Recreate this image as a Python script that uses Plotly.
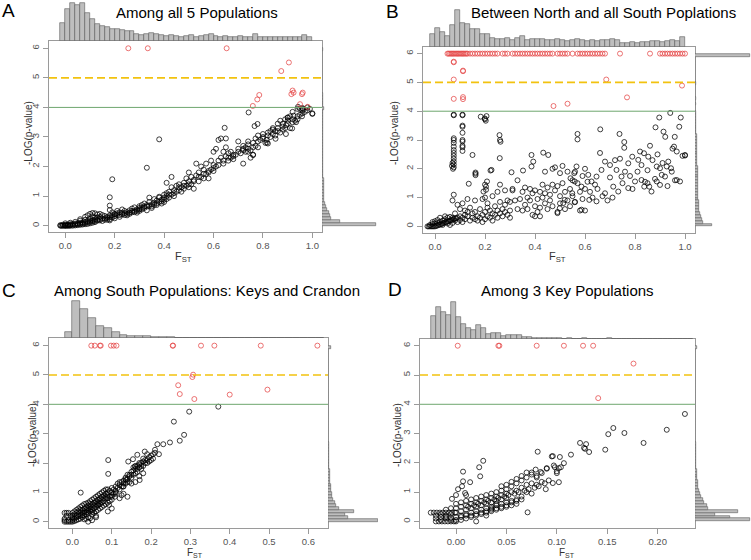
import plotly.graph_objects as go

# ---------------- DATA ----------------
A_TITLE = "Among all 5 Populations"
B_TITLE = "Between North and all South Poplations"
C_TITLE = "Among South Populations: Keys and Crandon"
D_TITLE = "Among 3 Key Populations"

A_BLACK = [(-0.02,0.0),(-0.015,0.0),(-0.01,0.0),(-0.005,0.0),(0.0,0.0),(0.005,0.0),(0.01,0.0),(0.015,0.0),(0.02,0.0),(0.03,0.0),(0.04,0.01),(0.05,0.02),(0.06,0.03),(0.07,0.04),(0.08,0.05),(0.09,0.06),(0.1,0.08),(0.11,0.1),(0.12,0.12),
 (-0.02,0.02),(-0.01,0.03),(0.0,0.03),(0.01,0.04),(0.02,0.05),(0.03,0.06),(0.04,0.07),(0.05,0.08),(0.06,0.1),(0.07,0.11),(0.08,0.13),(0.09,0.15),(0.1,0.17),(0.11,0.19),(0.12,0.21),(0.13,0.2),(0.14,0.18),(0.15,0.16),
 (0.0,0.08),(0.02,0.1),(0.04,0.13),(0.06,0.17),(0.08,0.2),(0.1,0.24),(0.12,0.28),(0.14,0.3),(0.16,0.25),(0.17,0.2),(0.18,0.22),
 (0.06,0.22),(0.08,0.3),(0.09,0.35),(0.1,0.4),(0.11,0.43),(0.12,0.42),(0.13,0.38),(0.14,0.4),(0.15,0.36),(0.16,0.33),(0.11,0.32),(0.13,0.27),
 (0.17,0.3),(0.18,0.35),(0.19,0.28),(0.2,0.32),(0.2,0.4),(0.21,0.36),(0.22,0.3),(0.22,0.45),(0.23,0.38),(0.24,0.42),(0.24,0.5),(0.25,0.35),(0.25,0.46),(0.26,0.4),(0.26,0.52),(0.27,0.45),(0.27,0.58),(0.28,0.5),(0.28,0.62),(0.29,0.44),(0.29,0.55),(0.3,0.5),(0.3,0.6),(0.3,0.66),(0.19,0.45),(0.21,0.5),(0.23,0.55),(0.2,0.25),(0.18,0.18),
 (0.31,0.55),(0.31,0.7),(0.32,0.6),(0.32,0.75),(0.33,0.52),(0.33,0.65),(0.34,0.68),(0.34,0.8),(0.35,0.6),(0.35,0.72),(0.36,0.78),(0.36,0.9),(0.37,0.7),(0.37,0.85),(0.38,0.8),(0.38,0.95),(0.39,0.75),(0.39,0.88),(0.4,0.8),(0.4,0.95),(0.4,1.05),(0.41,0.9),(0.41,1.1),(0.42,0.95),(0.42,1.15),(0.43,1.05),(0.43,1.3),(0.44,1.0),(0.44,1.2),(0.45,1.15),(0.45,1.35),
 (0.34,0.95),(0.38,0.98),(0.43,1.65),(0.41,1.45),
 (0.46,1.2),(0.46,1.4),(0.47,1.3),(0.47,1.15),(0.48,1.25),(0.48,1.45),(0.49,1.35),(0.49,1.6),(0.5,1.3),(0.5,1.5),(0.5,1.8),(0.51,1.4),(0.51,1.65),(0.52,1.25),(0.52,1.55),(0.53,1.7),(0.53,2.1),(0.54,1.5),(0.54,1.8),(0.55,1.65),(0.55,2.0),(0.56,1.6),(0.56,1.9),(0.57,1.75),(0.57,2.1),(0.58,1.8),(0.58,1.6),(0.59,1.9),(0.59,2.2),(0.6,1.85),(0.6,2.05),(0.6,2.5),
 (0.61,2.0),(0.61,2.6),(0.62,2.2),(0.62,2.9),(0.63,2.3),(0.63,2.95),(0.64,2.1),(0.64,2.5),(0.65,2.35),(0.65,2.65),(0.65,2.95),(0.66,2.2),(0.66,2.45),(0.67,2.3),(0.67,2.5),(0.68,2.35),(0.68,2.25),(0.69,2.4),(0.7,2.5),(0.7,2.85),(0.71,2.45),(0.72,2.6),(0.72,2.55),(0.73,2.65),(0.73,2.5),(0.74,2.6),(0.74,2.85),(0.75,2.3),(0.75,2.55),(0.76,2.4),(0.76,2.65),
 (0.77,2.7),(0.77,2.95),(0.78,2.65),(0.78,3.05),(0.79,2.9),(0.8,2.95),(0.8,3.1),(0.81,2.8),(0.82,2.78),(0.82,3.05),(0.83,3.0),(0.83,3.2),(0.84,3.1),(0.84,3.25),(0.85,3.2),(0.85,3.05),(0.86,3.3),(0.86,3.45),(0.87,3.15),(0.87,3.55),(0.88,3.25),(0.88,3.35),(0.89,3.3),(0.89,3.6),(0.9,3.45),(0.9,3.65),
 (0.91,3.3),(0.91,3.7),(0.92,3.5),(0.92,3.85),(0.93,3.55),(0.94,3.6),(0.94,3.95),(0.95,3.75),(0.95,3.95),(0.96,3.8),(0.96,3.98),(0.97,3.85),(0.98,4.0),(0.99,3.95),(1.0,3.78),(1.0,3.8),
 (0.19,1.57),(0.18,0.96),(0.18,0.68),(0.18,0.53),(0.33,1.96),(0.38,2.92),(0.645,3.31),(0.742,3.83),(0.766,3.37),(0.778,3.44),(0.816,2.81),(0.815,2.9),(0.851,2.94),(0.924,3.72),(0.958,3.7),(0.962,3.95),(0.942,4.02),(0.9,3.66),(0.893,3.1),(0.918,3.29),(0.934,3.5),(0.894,3.4),(0.74,2.5),(0.76,2.39),(0.72,2.1),
 (0.0,0.01),(0.01,0.02),(0.02,0.02),(0.03,0.03),(0.04,0.04),(0.05,0.05),(0.06,0.06),(0.07,0.07),(0.08,0.09),(0.09,0.11),(0.1,0.13),(0.11,0.15),(0.12,0.16),(0.13,0.17),(0.14,0.22),(0.15,0.24),(0.16,0.2),(0.17,0.26),(0.18,0.28),(0.19,0.35),(0.2,0.38),(0.21,0.42),(0.22,0.36),(0.23,0.44),(0.24,0.36),(0.25,0.4),(0.26,0.44),(0.27,0.5),(0.28,0.46),(0.29,0.5),(0.3,0.55),(0.31,0.6),(0.32,0.65),(0.33,0.7),(0.35,0.65),(0.36,0.7),(0.37,0.75),(0.39,0.82),(0.4,0.88),(0.41,1.0),(0.42,1.05),(0.44,1.1),(0.46,1.3),(0.48,1.35),(0.5,1.4),(0.52,1.5),(0.54,1.65),(0.56,1.75),(0.58,1.85),(0.6,1.95),(0.62,2.05),(0.64,2.2),(0.66,2.3),(0.68,2.4),(0.7,2.6),(0.72,2.7),(0.74,2.75),(0.76,2.8),(0.78,2.85),(0.8,3.0),(0.82,3.15),(0.84,3.3),(0.86,3.2),(0.88,3.45),(0.9,3.55),(0.92,3.6),(0.94,3.7),(0.96,3.9),(0.98,3.9)]
A_RED = [(0.255,6.0),(0.334,6.0),(0.653,6.0),(0.905,5.52),(0.874,5.23),(0.759,4.05),(0.777,4.27),(0.785,4.42),(0.92,4.57),(0.924,4.5),(0.915,4.45),(0.961,4.5),(0.958,4.45),(0.95,4.11),(0.981,4.02)]

B_BLACK = [(-0.03,0.0),(-0.025,0.0),(-0.02,0.0),(-0.015,0.0),(-0.01,0.0),(-0.005,0.0),(0.0,0.0),(0.005,0.02),(0.01,0.03),(0.015,0.05),(0.02,0.06),(0.025,0.08),(0.03,0.1),(0.035,0.12),(0.04,0.14),(0.045,0.15),(0.05,0.17),(0.055,0.18),(0.06,0.2),(0.065,0.22),(0.07,0.24),(0.075,0.25),(0.08,0.27),(0.085,0.28),(0.09,0.3),
 (-0.02,0.05),(-0.01,0.08),(0.0,0.1),(0.01,0.12),(0.02,0.15),(0.03,0.2),(0.04,0.25),(0.05,0.3),(0.06,0.33),(0.07,0.3),(0.08,0.2),(0.09,0.15),(0.1,0.22),(0.02,0.3),(0.04,0.35),(0.01,0.22),(0.0,0.18),(-0.01,0.15),(0.03,0.05),(0.05,0.1),(0.07,0.12),(0.06,0.05),(0.1,0.35),(0.11,0.3),(0.12,0.25),(0.12,0.4),(0.13,0.35),(0.11,0.15),
 (0.14,0.2),(0.15,0.3),(0.15,0.45),(0.16,0.25),(0.16,0.5),(0.17,0.35),(0.17,0.2),(0.18,0.3),(0.18,0.6),(0.19,0.4),(0.19,0.15),(0.2,0.25),(0.2,0.5),(0.21,0.35),(0.21,0.65),(0.22,0.3),(0.22,0.55),(0.23,0.45),(0.23,0.2),(0.24,0.4),(0.24,0.7),(0.25,0.55),(0.25,0.3),(0.26,0.45),(0.26,0.85),(0.27,0.6),(0.27,0.35),(0.28,0.5),(0.28,0.75),(0.29,0.4),(0.29,0.9),(0.3,0.55),(0.3,0.3),(0.13,0.5),(0.14,0.65),(0.12,0.55),(0.1,0.6),(0.09,0.75),(0.08,0.45),(0.07,0.9),(0.075,1.1),(0.11,0.8),(0.13,0.95),(0.16,0.9),(0.2,1.0),(0.23,1.05),(0.26,1.45),(0.25,1.2),(0.28,1.25),
 (0.075,3.86),(0.075,3.88),(0.075,3.06),(0.075,3.0),(0.075,2.9),(0.075,2.77),(0.075,2.65),(0.075,2.55),(0.075,2.45),(0.075,2.35),(0.075,2.25),(0.075,2.15),(0.075,2.05),(0.072,2.0),(0.07,2.2),(0.068,2.1),
 (0.11,3.86),(0.11,3.88),(0.11,3.5),(0.11,3.46),(0.11,3.25),(0.11,3.0),(0.11,2.95),(0.11,2.8),(0.11,2.75),(0.11,2.62),
 (0.183,3.81),(0.199,3.75),(0.203,3.67),(0.206,3.83),(0.2,3.72),(0.258,3.17),(0.26,3.0),(0.262,2.94),(0.15,2.48),(0.259,2.37),(0.162,1.87),(0.162,1.83),(0.162,1.78),(0.204,1.38),(0.204,1.27),(0.208,1.56),(0.226,1.96),(0.222,1.94),(0.194,1.21),(0.2,1.45),(0.135,1.48),(0.19,0.95),(0.21,0.8),
 (0.386,2.48),(0.393,2.25),(0.433,2.56),(0.453,2.48),(0.306,1.88),(0.352,1.94),(0.386,2.08),(0.31,1.3),(0.31,1.25),(0.32,0.9),(0.33,0.6),(0.34,0.95),(0.35,0.55),(0.35,1.2),(0.36,0.75),(0.37,1.0),(0.37,0.6),(0.38,0.9),(0.38,1.3),(0.39,1.15),(0.39,0.4),(0.4,0.7),(0.4,1.25),(0.41,0.5),(0.41,0.95),(0.42,1.2),(0.42,0.65),(0.43,1.0),(0.43,1.45),(0.44,0.8),(0.44,1.15),(0.45,0.6),(0.45,1.35),(0.46,1.1),(0.46,0.9),(0.47,1.45),(0.47,0.7),(0.48,1.25),(0.48,2.05),(0.49,0.5),(0.49,1.4),(0.5,1.05),(0.5,0.8),(0.51,1.5),(0.51,2.1),(0.52,0.6),(0.52,1.2),(0.53,1.9),(0.53,0.9),(0.54,1.3),(0.54,0.7),(0.55,1.6),(0.55,1.05),(0.56,0.85),(0.56,1.9),(0.57,1.5),(0.57,3.21),(0.57,3.02),(0.58,0.55),(0.58,1.2),(0.59,1.75),(0.59,0.95),(0.6,1.3),(0.6,2.0),
 (0.33,1.6),(0.36,1.35),(0.44,1.9),(0.47,2.0),(0.5,1.85),(0.4,0.35),(0.42,0.35),(0.3,0.85),
 (0.661,3.37),(0.738,3.21),(0.757,2.93),(0.757,2.73),(0.897,3.78),(0.941,3.94),(0.983,3.78),(0.977,3.46),(0.959,3.11),(0.882,3.44),(0.914,3.29),(0.921,3.11),(0.956,2.77),(0.967,2.6),(1.0,2.48),(1.0,2.46),(0.933,2.25),(0.9,2.02),(0.853,2.42),(0.836,2.54),(0.813,2.31),(0.826,2.13),(0.789,2.42),(0.773,2.19),(0.746,1.73),(0.726,1.96),(0.7,2.13),(0.68,2.25),(0.666,1.96),(0.646,1.73),(0.626,1.56),(0.613,1.79),(0.586,1.38),(0.559,1.56),(0.566,2.08),(0.557,1.85),(0.542,1.67),(0.549,1.15),(0.519,0.92),(0.499,0.63),(0.49,0.46),(0.513,0.81),(0.559,0.84),(0.586,0.58),(0.617,0.92),(0.646,0.87),(0.68,1.15),(0.713,1.38),(0.733,1.21),(0.773,1.33),(0.8,1.56),(0.826,1.61),(0.857,1.38),(0.887,1.56),(0.9,1.44),(0.92,1.73),(0.947,1.9),(0.967,1.61),(0.98,1.56),(0.907,1.79),(0.866,1.21),(0.837,1.38),(0.887,2.08),(0.927,2.08),(0.944,2.02),
 (0.62,1.2),(0.64,1.45),(0.66,2.55),(0.67,1.05),(0.69,0.9),(0.7,1.7),(0.71,1.0),(0.72,2.3),(0.74,2.35),(0.75,1.5),(0.76,1.9),(0.78,1.75),(0.79,1.3),(0.81,1.9),(0.82,2.6),(0.84,1.55),(0.85,1.95),(0.86,2.8),(0.87,2.3),(0.88,1.65),(0.89,2.5),(0.91,2.2),(0.93,1.4),(0.95,2.7),(0.96,1.6),(0.99,2.45),(0.6,0.55),(0.63,1.0),(0.65,1.3),(0.61,1.55),(0.85,1.5)]
B_RED = [(0.05,6),(0.055,6),(0.06,6),(0.065,6),(0.07,6),(0.075,6),(0.08,6),(0.085,6),(0.09,6),(0.095,6),(0.1,6),(0.105,6),(0.11,6),(0.115,6),(0.12,6),(0.125,6),(0.13,6),(0.14,6),(0.15,6),(0.16,6),(0.17,6),(0.18,6),(0.19,6),(0.2,6),(0.21,6),(0.22,6),(0.23,6),(0.24,6),(0.25,6),(0.27,6),(0.28,6),(0.29,6),(0.31,6),(0.32,6),(0.33,6),(0.34,6),(0.35,6),(0.36,6),(0.37,6),(0.38,6),(0.39,6),(0.4,6),(0.41,6),(0.42,6),(0.43,6),(0.44,6),(0.45,6),(0.46,6),(0.47,6),(0.49,6),(0.5,6),(0.51,6),(0.52,6),(0.53,6),(0.55,6),(0.57,6),(0.58,6),(0.59,6),(0.6,6),(0.61,6),(0.62,6),(0.63,6),(0.64,6),(0.65,6),(0.66,6),(0.67,6),(0.68,6),(0.74,6),(0.86,6),(0.9,6),(0.91,6),(0.92,6),(0.93,6),(0.94,6),(0.95,6),(0.96,6),(0.97,6),(0.98,6),(0.99,6),(1.0,6),
 (0.075,5.7),(0.075,5.72),(0.075,5.1),(0.075,4.43),(0.112,5.41),(0.112,5.39),(0.112,4.49),(0.112,4.42),(0.474,4.18),(0.53,4.26),(0.685,5.1),(0.768,4.48),(0.988,4.89)]

C_BLACK = [(-0.02,0.0),(-0.015,0.0),(-0.01,0.0),(-0.005,0.0),(0.0,0.0),(0.005,0.02),(0.01,0.05),(0.015,0.08),(0.02,0.1),(0.025,0.15),(0.03,0.2),(0.035,0.25),(0.04,0.3),(0.045,0.35),(0.05,0.4),(0.055,0.45),(0.06,0.5),(0.065,0.55),(0.07,0.6),(0.075,0.65),(0.08,0.7),
 (-0.02,0.1),(-0.015,0.2),(-0.02,0.3),(-0.015,0.3),(-0.01,0.3),(-0.005,0.2),(0.0,0.15),(0.005,0.25),(0.01,0.3),(0.015,0.35),(0.02,0.3),(0.025,0.4),(0.03,0.45),(0.035,0.5),(0.04,0.55),(0.045,0.5),(0.05,0.6),(0.055,0.65),(0.06,0.7),(0.065,0.75),(0.07,0.8),(0.075,0.85),(0.08,0.9),
 (0.0,0.05),(0.005,0.1),(0.01,0.15),(0.015,0.18),(0.02,0.2),(0.025,0.22),(0.03,0.3),(0.035,0.32),(0.04,0.38),(0.045,0.42),(0.05,0.25),(0.055,0.3),(0.06,0.35),(0.065,0.4),(0.07,0.45),(0.075,0.5),(0.08,0.55),(0.085,0.6),(0.09,0.65),(0.095,0.7),(0.1,0.75),
 (0.0,0.3),(0.005,0.35),(0.01,0.4),(0.015,0.45),(0.02,0.5),(0.025,0.55),(0.03,0.6),(0.035,0.62),(0.04,0.65),(0.045,0.7),(0.05,0.75),(0.055,0.8),(0.06,0.85),(0.065,0.9),(0.07,0.95),(0.075,1.0),(0.08,1.05),(0.085,1.1),(0.09,1.0),(0.095,1.05),
 (0.021,0.99),(0.04,0.15),(0.045,0.12),(0.03,0.08),(0.035,0.1),(0.05,0.33),(0.06,0.2),(0.065,0.6),
 (0.085,0.8),(0.09,0.9),(0.095,0.85),(0.1,1.0),(0.1,0.9),(0.105,1.1),(0.11,1.2),(0.11,0.95),(0.115,1.15),(0.115,1.3),(0.12,1.25),(0.12,1.1),(0.125,1.35),(0.125,0.9),(0.13,1.4),(0.13,1.2),(0.135,1.5),(0.135,1.3),(0.14,1.45),(0.14,1.6),(0.145,1.55),(0.145,1.35),(0.15,1.7),(0.15,1.5),(0.155,1.75),(0.155,1.6),(0.16,1.8),(0.16,1.65),(0.165,1.9),(0.165,1.7),(0.17,1.95),(0.17,1.85),(0.175,2.0),(0.175,1.8),(0.18,2.05),(0.18,1.9),(0.185,2.0),(0.19,2.1),(0.19,2.3),(0.195,2.2),(0.2,2.25),(0.2,2.1),(0.205,2.3),
 (0.091,2.1),(0.091,1.63),(0.184,2.39),(0.165,2.28),(0.154,2.13),(0.142,2.05),(0.159,1.88),(0.18,1.65),(0.171,1.42),(0.137,1.42),(0.129,1.2),(0.108,0.85),(0.093,0.57),(0.12,0.8),(0.13,0.95),(0.14,0.85),(0.15,1.3),(0.16,1.35),(0.17,1.55),(0.06,0.15),(0.05,0.05),(0.04,0.0),(0.1,0.45),(0.09,0.35),
 (0.371,3.92),(0.297,3.75),(0.258,3.41),(0.284,2.96),(0.273,2.76),(0.248,2.7),(0.231,2.64),(0.216,2.64),(0.21,2.45),(0.22,2.3),
 (0.085,0.95),(0.09,1.1),(0.1,1.15),(0.105,0.95),(0.11,1.05),(0.12,1.35),(0.125,1.2),(0.13,1.3),(0.135,1.45),(0.14,1.35),(0.145,1.6),(0.15,1.6),(0.155,1.85),(0.16,1.9),(0.165,1.8),(0.17,2.0),(0.175,1.9),(0.18,2.15),(0.185,2.1),(0.19,2.0),(0.195,2.05),(0.205,2.15),(0.21,2.35),(0.0,0.2),(0.01,0.2),(0.02,0.4),(0.03,0.35),(0.04,0.45),(0.05,0.5),(0.06,0.6),(0.07,0.7),(0.08,0.8),(0.09,0.8),(0.1,0.85),(0.11,1.0),(-0.02,0.05),(-0.01,0.05),(0.0,0.1),(0.015,0.25),(0.025,0.3),(0.035,0.4),(0.045,0.6),(0.055,0.55),(0.065,0.65),(0.075,0.75),(0.085,0.85)]
C_RED = [(0.048,6),(0.057,6),(0.07,6),(0.072,6),(0.098,6),(0.105,6),(0.112,6),(0.255,6),(0.256,6),(0.327,6),(0.361,6),(0.479,6),(0.623,6),
 (0.307,5.01),(0.305,4.93),(0.269,4.65),(0.273,4.35),(0.31,4.18),(0.4,4.33),(0.496,4.5)]

D_BLACK = [(-0.025,0.3),(-0.022,0.3),(-0.019,0.3),(-0.016,0.3),(-0.013,0.3),(-0.01,0.3),(-0.007,0.3),(-0.004,0.3),(-0.001,0.3),
 (-0.02,0.0),(-0.017,0.0),(-0.014,0.0),(-0.011,0.0),(-0.008,0.0),(-0.005,0.0),(-0.002,0.0),(0.0,0.0),(0.02,0.0),
 (-0.02,0.1),(-0.015,0.15),(-0.01,0.2),(-0.005,0.25),(0.0,0.3),(0.005,0.35),(0.01,0.4),(0.015,0.45),(0.02,0.5),(0.025,0.55),(0.03,0.6),(0.035,0.65),(0.04,0.7),
 (-0.015,0.05),(-0.01,0.1),(-0.005,0.12),(0.0,0.15),(0.005,0.2),(0.01,0.25),(0.015,0.3),(0.02,0.35),(0.025,0.4),(0.03,0.45),(0.035,0.5),(0.04,0.55),(0.045,0.6),(0.05,0.65),
 (0.0,0.45),(0.005,0.5),(0.01,0.55),(0.015,0.6),(0.02,0.65),(0.025,0.7),(0.03,0.75),(0.035,0.8),(0.04,0.85),(0.045,0.9),(0.05,0.95),(0.055,1.0),
 (-0.01,0.4),(-0.005,0.45),(0.0,0.6),(0.005,0.65),(0.01,0.7),(0.015,0.75),(0.02,0.8),(0.025,0.85),(0.03,0.9),(0.035,0.95),(0.04,1.0),(0.045,1.05),(0.05,1.1),
 (0.005,0.05),(0.01,0.1),(0.015,0.15),(0.02,0.2),(0.025,0.25),(0.03,0.3),(0.035,0.35),(0.04,0.4),(0.045,0.45),(0.05,0.5),(0.055,0.55),(0.06,0.6),
 (-0.004,0.77),(0.002,1.1),(0.009,0.97),(0.006,1.2),(0.014,1.34),(0.024,1.54),(0.007,1.37),(0.007,1.7),(0.023,1.85),(0.027,2.07),(0.01,0.9),(0.0,0.9),
 (0.055,1.2),(0.06,1.05),(0.06,1.3),(0.065,1.15),(0.065,1.4),(0.07,1.25),(0.07,1.5),(0.07,1.67),(0.075,1.3),(0.075,1.6),(0.075,1.67),(0.079,1.77),(0.08,1.5),(0.08,1.55),(0.084,1.69),(0.085,1.65),(0.09,1.82),(0.09,1.8),(0.089,1.1),(0.097,1.91),(0.1,1.71),(0.102,1.82),(0.107,1.99),(0.096,1.31),(0.102,1.34),(0.071,0.31),(0.065,0.85),(0.06,0.75),(0.055,0.7),(0.05,0.8),(0.045,0.75),(0.04,0.6),(0.035,0.4),(0.03,0.2),(0.08,1.25),(0.075,0.95),(0.07,1.0),(0.085,1.35),
 (0.227,3.67),(0.209,3.13),(0.186,2.68),(0.167,3.02),(0.156,3.19),(0.151,2.98),(0.148,2.45),(0.123,2.68),(0.129,2.64),(0.127,2.51),(0.128,2.48),(0.132,2.37),(0.114,2.28),(0.103,2.2),(0.095,2.22),(0.096,2.23),(0.081,2.38),(0.1,1.65),(0.104,1.85),(0.098,1.85),
 (-0.02,0.2),(-0.015,0.25),(-0.01,0.15),(-0.005,0.05),(0.0,0.05),(0.005,0.15),(0.01,0.2),(0.015,0.2),(0.02,0.25),(0.025,0.3),(0.03,0.35),(0.035,0.45),(0.04,0.45),(0.045,0.5),(0.05,0.55),(0.055,0.65),(0.06,0.7),(0.065,0.75),(0.012,0.5),(0.018,0.55),(0.022,0.6),(0.028,0.65),(0.032,0.7),(0.038,0.75),(0.042,0.8),(0.048,0.85),(0.052,0.9),(0.058,0.95),(0.062,1.0),(0.068,1.05),(0.072,1.1),(0.078,1.15),(0.082,1.2),(0.088,1.3),(0.092,1.4),(0.045,1.2),(0.05,1.25),(0.055,1.35),(0.06,1.45),(0.065,1.55)]
D_RED = [(0.0017,6),(0.042,6),(0.043,6),(0.08,6),(0.107,6),(0.126,6),(0.136,6),(0.176,5.39),(0.141,4.21)]

# marginal histograms of F_ST (bin start, bin width, heights)
A_TOP_START, A_TOP_WIDTH = -0.02, 0.02
A_TOP = [53, 97, 115, 107, 115, 83, 67, 51, 45, 41,
         37, 35, 33, 31, 29, 21, 17, 21, 25, 21,
         17, 15, 19, 15, 13, 15, 17, 13, 15, 17,
         21, 15, 13, 15, 13, 11, 15, 13, 12, 22,
         13, 11, 13, 11, 12, 13, 11, 13, 12, 17, 12]
B_TOP_START, B_TOP_WIDTH = -0.02, 0.02
B_TOP = [38, 58, 46, 33, 65, 110, 72, 68, 54, 54,
         40, 40, 28, 23, 23, 28, 21, 28, 33, 21,
         25, 25, 23, 20, 22, 24, 20, 18, 22, 25,
         20, 18, 22, 18, 20, 22, 24, 20, 13, 12,
         14, 12, 14, 16, 18, 17, 14, 18, 22, 18, 30]
C_TOP_START, C_TOP_WIDTH = -0.02, 0.02
C_TOP = [17, 112, 88, 60, 35, 30, 18, 10, 7, 7,
         7, 4, 2, 2, 1, 1, 1, 1, 0, 1,
         1, 1, 0, 1, 0, 0, 0, 0, 0, 0,
         1, 1, 0]
D_TOP_START, D_TOP_WIDTH = -0.025, 0.005
D_TOP = [70, 95, 80, 72, 110, 67, 45, 34, 27, 42,
         32, 15, 19, 19, 9, 13, 12, 11, 6, 5,
         4, 4, 2, 3, 3, 2, 1, 2, 1, 1,
         2, 1, 1, 1, 1, 2, 1, 1, 1, 0,
         1, 1, 0, 1, 1, 0, 0, 1, 0, 0,
         1, 1]

# marginal histograms of -LOG(p-value) (bins of 0.1 from 0 to 6)
P_BIN_START, P_BIN_WIDTH = 0.0, 0.1
A_RIGHT = [163, 53, 28, 25, 21, 15, 11, 8, 7, 6,
           6, 5, 5, 5, 5, 5, 4, 4, 4, 4,
           4, 4, 4, 4, 4, 3, 3, 3, 3, 3,
           3, 3, 3, 3, 3, 3, 3, 4, 4, 6,
           3, 2, 2, 2, 2, 1, 0, 0, 0, 0,
           0, 0, 1, 0, 0, 1, 0, 0, 0, 3]
B_RIGHT = [50, 25, 20, 18, 15, 13, 12, 12, 11, 10,
           10, 10, 9, 9, 9, 8, 8, 8, 8, 8,
           8, 7, 7, 7, 7, 7, 6, 6, 6, 5,
           5, 5, 4, 4, 4, 4, 3, 3, 4, 3,
           1, 1, 2, 1, 2, 1, 0, 0, 1, 2,
           1, 0, 0, 0, 1, 0, 0, 1, 0, 165]
C_RIGHT = [150, 60, 50, 78, 33, 24, 20, 16, 13, 12,
           10, 9, 8, 7, 7, 6, 5, 5, 4, 4,
           3, 3, 3, 2, 2, 2, 2, 1, 1, 1,
           1, 1, 1, 1, 1, 0, 1, 1, 0, 1,
           0, 1, 1, 1, 1, 1, 1, 0, 0, 1,
           1, 0, 0, 0, 0, 0, 0, 0, 0, 10]
D_RIGHT = [165, 105, 60, 130, 40, 35, 27, 23, 18, 15,
           13, 10, 9, 8, 7, 6, 5, 5, 4, 4,
           3, 3, 3, 2, 2, 2, 2, 1, 1, 1,
           1, 1, 1, 1, 1, 1, 1, 1, 0, 0,
           0, 0, 1, 0, 0, 0, 0, 0, 0, 0,
           0, 0, 0, 1, 0, 0, 0, 0, 0, 7]

Y_TICKS = [0, 1, 2, 3, 4, 5, 6]
AB_X_TICKS = [0.0, 0.2, 0.4, 0.6, 0.8, 1.0]
C_X_TICKS = [0.0, 0.1, 0.2, 0.3, 0.4, 0.5, 0.6]
D_X_TICKS = [0.0, 0.05, 0.10, 0.15, 0.20]
THRESH_STRICT = 5
THRESH_LOOSE = 4

# ---------------- LAYOUT / STYLE ----------------
W, H = 751, 560
FONT = "Liberation Sans, Arial, Helvetica, sans-serif"
HIST_FILL = "#BEBEBE"
HIST_LINE = "#5a5a5a"
RED = "rgb(228,70,70)"
FRAME = "#9a9a9a"

fig = go.Figure()
layout = {}
shapes = []
annotations = []


def xdom(a, b):
    return [a / W, b / W]


def ydom(top, bot):
    return [1 - bot / H, 1 - top / H]


def aid(prefix, n):
    return prefix if n == 1 else f"{prefix}{n}"


def panel(idx, letter, title, black, red, top_start, top_w, top_vals, right_vals,
          box, xr, yr, xticks, xfmt, hist_top, right_end, letter_pos, title_pos,
          ylab_pos, xlab_pos, xlab_size):
    left, right, top, bot = box
    n0 = 3 * idx + 1
    sx, sy = aid("x", n0), aid("y", n0)
    hx, hy = aid("x", n0 + 1), aid("y", n0 + 1)
    rx, ry = aid("x", n0 + 2), aid("y", n0 + 2)
    ax = lambda n: aid("xaxis", n)
    ay = lambda n: aid("yaxis", n)

    layout[ax(n0)] = dict(domain=xdom(left, right), range=xr, anchor=sy,
                          showline=True, mirror=True, linecolor=FRAME, linewidth=1,
                          ticks="outside", ticklen=5, tickcolor=FRAME, tickwidth=1,
                          tickvals=xticks, tickformat=xfmt, showgrid=False, zeroline=False,
                          tickfont=dict(size=9.5, color="#555555", family=FONT))
    layout[ay(n0)] = dict(domain=ydom(top, bot), range=yr, anchor=sx,
                          showline=True, mirror=True, linecolor=FRAME, linewidth=1,
                          ticks="outside", ticklen=5, tickcolor=FRAME, tickwidth=1,
                          tickvals=Y_TICKS, tickangle=-90, showgrid=False, zeroline=False,
                          tickfont=dict(size=9.5, color="#555555", family=FONT))
    layout[ax(n0 + 1)] = dict(domain=xdom(left, right), range=xr, anchor=hy, visible=False)
    layout[ay(n0 + 1)] = dict(domain=ydom(hist_top, top), range=[0, 3 * (top - hist_top)],
                              anchor=hx, visible=False)
    layout[ax(n0 + 2)] = dict(domain=xdom(right, right_end), range=[0, 3 * (right_end - right)],
                              anchor=ry, visible=False)
    layout[ay(n0 + 2)] = dict(domain=ydom(top, bot), range=yr, anchor=rx, visible=False)

    centers = [top_start + top_w * (i + 0.5) for i in range(len(top_vals))]
    fig.add_trace(go.Bar(x=centers, y=top_vals, width=top_w, xaxis=hx, yaxis=hy,
                         marker=dict(color=HIST_FILL, line=dict(color=HIST_LINE, width=0.6))))
    pc = [P_BIN_START + P_BIN_WIDTH * (i + 0.5) for i in range(len(right_vals))]
    fig.add_trace(go.Bar(y=pc, x=right_vals, width=P_BIN_WIDTH, orientation="h",
                         xaxis=rx, yaxis=ry,
                         marker=dict(color=HIST_FILL, line=dict(color=HIST_LINE, width=0.6))))

    fig.add_trace(go.Scatter(x=[p[0] for p in black], y=[p[1] for p in black], mode="markers",
                             xaxis=sx, yaxis=sy,
                             marker=dict(symbol="circle-open", size=5, color="black",
                                         line=dict(width=0.75))))
    fig.add_trace(go.Scatter(x=[p[0] for p in red], y=[p[1] for p in red], mode="markers",
                             xaxis=sx, yaxis=sy,
                             marker=dict(symbol="circle-open", size=5, color=RED,
                                         line=dict(width=0.75))))

    xref_dom = f"{sx} domain"
    shapes.append(dict(type="line", xref=xref_dom, yref=sy, x0=0, x1=1,
                       y0=THRESH_STRICT, y1=THRESH_STRICT,
                       line=dict(color="#F2C20F", width=1.6, dash="8px,4px")))
    shapes.append(dict(type="line", xref=xref_dom, yref=sy, x0=0, x1=1,
                       y0=THRESH_LOOSE, y1=THRESH_LOOSE,
                       line=dict(color="#6EA66E", width=1)))

    def ann(text, pos, size, angle=0, color="black"):
        annotations.append(dict(text=text, x=pos[0] / W, y=1 - pos[1] / H, xref="paper",
                                yref="paper", showarrow=False, textangle=angle,
                                xanchor="center", yanchor="middle",
                                font=dict(size=size, color=color, family=FONT)))

    ann(letter, letter_pos, 19)
    ann(title, title_pos, 15)
    ann("-LOG(p-value)", ylab_pos, 10, angle=-90, color="#333333")
    ann("F<sub>ST</sub>", xlab_pos, xlab_size, color="#333333")


panel(0, "A", A_TITLE, A_BLACK, A_RED, A_TOP_START, A_TOP_WIDTH, A_TOP, A_RIGHT,
      box=(49, 322, 41, 232), xr=[-0.066, 1.039], yr=[-0.213, 6.246],
      xticks=AB_X_TICKS, xfmt=".1f", hist_top=0, right_end=377,
      letter_pos=(8, 10), title_pos=(197, 12), ylab_pos=(28, 133), xlab_pos=(183, 257),
      xlab_size=11)
panel(1, "B", B_TITLE, B_BLACK, B_RED, B_TOP_START, B_TOP_WIDTH, B_TOP, B_RIGHT,
      box=(423, 695, 47, 233), xr=[-0.048, 1.04], yr=[-0.23, 6.23],
      xticks=AB_X_TICKS, xfmt=".1f", hist_top=0, right_end=751,
      letter_pos=(393, 11), title_pos=(603, 12), ylab_pos=(394, 133), xlab_pos=(557, 257),
      xlab_size=11)
panel(2, "C", C_TITLE, C_BLACK, C_RED, C_TOP_START, C_TOP_WIDTH, C_TOP, C_RIGHT,
      box=(49, 328, 338, 528), xr=[-0.0596, 0.650], yr=[-0.215, 6.26],
      xticks=C_X_TICKS, xfmt=".1f", hist_top=295, right_end=378,
      letter_pos=(9, 290), title_pos=(207, 290), ylab_pos=(32, 435), xlab_pos=(195, 553),
      xlab_size=10)
panel(3, "D", D_TITLE, D_BLACK, D_RED, D_TOP_START, D_TOP_WIDTH, D_TOP, D_RIGHT,
      box=(420, 695, 339, 528), xr=[-0.0357, 0.237], yr=[-0.225, 6.23],
      xticks=D_X_TICKS, xfmt=".2f", hist_top=295, right_end=751,
      letter_pos=(395, 289), title_pos=(567, 290), ylab_pos=(397, 435), xlab_pos=(567, 553),
      xlab_size=10)

fig.update_layout(width=W, height=H, margin=dict(l=0, r=0, t=0, b=0),
                  paper_bgcolor="white", plot_bgcolor="white", showlegend=False,
                  font=dict(family=FONT), shapes=shapes, annotations=annotations,
                  bargap=0, **layout)
fig.write_html("out.html", config={"displayModeBar": False},
               post_script="document.body.style.margin='0px';document.body.style.overflow='hidden';")
